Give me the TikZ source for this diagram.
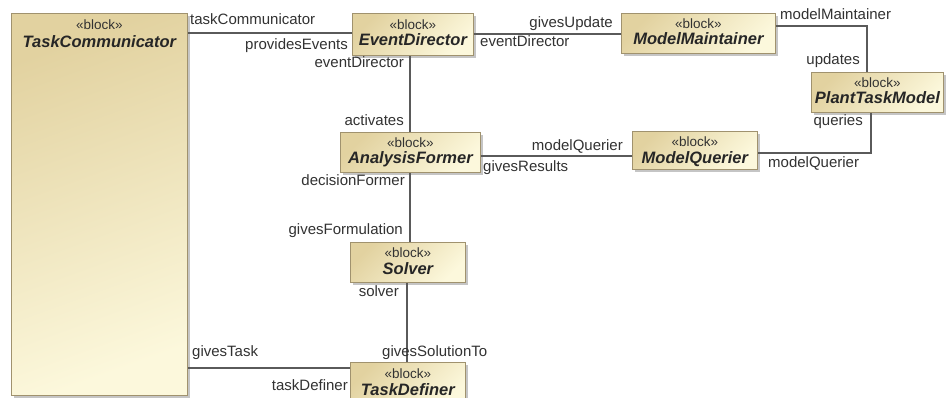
\documentclass[tikz,border=0pt]{standalone}
\usepackage{fontspec}
\setmainfont{Liberation Sans}
\usetikzlibrary{shadows}
\definecolor{blkdark}{RGB}{226,210,160}
\definecolor{blklight}{RGB}{252,248,220}
\definecolor{blkedge}{RGB}{160,146,110}
\definecolor{wire}{RGB}{90,90,90}
\definecolor{lbltext}{RGB}{50,50,50}
\tikzset{
  blk/.style={rectangle, draw=blkedge, line width=0.8pt, inner sep=0pt,
    top color=blkdark, bottom color=blklight, shading angle=45,
    drop shadow={shadow xshift=2.5pt, shadow yshift=-2.5pt, fill=black!45}},
  stereo/.style={inner sep=0pt, text=lbltext, font=\fontsize{13.5}{15}\selectfont},
  blkname/.style={inner sep=0pt, text=black!85, font=\fontsize{16.5}{18}\selectfont\bfseries\itshape},
  conn/.style={draw=wire, line width=1.2pt},
  lbl/.style={inner sep=0pt, text=lbltext, font=\fontsize{15}{17}\selectfont},
}
% stereotype and name of a block: #1 node, #2 name, #3 stereotype drop, #4 name drop
\newcommand{\blocktext}[4]{%
  \node[stereo] (#1-st) at ([yshift=-#3pt]#1.north) {«block»};
  \node[blkname] (#1-nm) at ([yshift=-#4pt]#1.north) {#2};
}
\begin{document}
\begin{tikzpicture}[x=1pt,y=-1pt]
\useasboundingbox (0,0) rectangle (946,398);
\clip (0,0) rectangle (946,398);
\fill[white] (0,0) rectangle (946,398);

% blocks
\node[blk, shading angle=20, minimum width=176pt, minimum height=382pt, anchor=north west] (tc) at (11,13) {};
\node[blk, minimum width=121pt, minimum height=42pt, anchor=north west] (ed) at (352,13) {};
\node[blk, minimum width=154pt, minimum height=40pt, anchor=north west] (mm) at (621,13) {};
\node[blk, minimum width=132pt, minimum height=40pt, anchor=north west] (ptm) at (811,72) {};
\node[blk, minimum width=125pt, minimum height=38pt, anchor=north west] (mq) at (632,131) {};
\node[blk, minimum width=140pt, minimum height=40pt, anchor=north west] (af) at (340,132) {};
\node[blk, minimum width=115pt, minimum height=40pt, anchor=north west] (sv) at (350,242) {};
\node[blk, minimum width=115pt, minimum height=44pt, anchor=north west] (td) at (350,362) {};

\blocktext{tc}{TaskCommunicator}{12}{29}
\blocktext{ed}{EventDirector}{12}{27}
\blocktext{mm}{ModelMaintainer}{11}{26}
\blocktext{ptm}{PlantTaskModel}{11}{26}
\blocktext{mq}{ModelQuerier}{11}{28}
\blocktext{af}{AnalysisFormer}{11}{27}
\blocktext{sv}{Solver}{11}{27}
\blocktext{td}{TaskDefiner}{12}{28}

% connector end points
\coordinate (tcin) at ([yshift=-20pt]tc.north east);
\coordinate (edup) at ([yshift=-21pt]ed.north east);
\coordinate (mmout) at ([yshift=-13pt]mm.north east);
\coordinate (ptmtop) at ([xshift=56pt]ptm.north west);
\coordinate (ptmbot) at ([xshift=60pt]ptm.south west);
\coordinate (mqin) at ([yshift=-22pt]mq.north east);
\coordinate (afq) at ([yshift=-24pt]af.north east);
\coordinate (edbot) at ([xshift=58pt]ed.south west);
\coordinate (afbot) at ([xshift=70pt]af.south west);
\coordinate (svbot) at ([xshift=57pt]sv.south west);
\coordinate (tdin) at ([yshift=-6pt]td.north west);

% connectors
\draw[conn] (tcin) -- (tcin -| ed.west);
\draw[conn] (edup) -- (edup -| mm.west);
\draw[conn] (edbot) -- (edbot |- af.north);
\draw[conn] (mmout) -- (mmout -| ptmtop) -- (ptmtop);
\draw[conn] (ptmbot) -- (ptmbot |- mqin) -- (mqin);
\draw[conn] (afq) -- (afq -| mq.west);
\draw[conn] (afbot) -- (afbot |- sv.north);
\draw[conn] (svbot) -- (svbot |- td.north);
\draw[conn] (tdin) -- (tdin -| tc.east);

% connector end labels
\node[lbl, anchor=base west] (l1) at (190,25) {taskCommunicator};
\node[lbl, anchor=base east] (l2) at (348,50) {providesEvents};
\node[lbl, anchor=base east] (l3) at (404,68) {eventDirector};
\node[lbl, anchor=base east] (l4) at (404,126) {activates};
\node[lbl, anchor=base east] (l5) at (613,28) {givesUpdate};
\node[lbl, anchor=base west] (l6) at (480,47) {eventDirector};
\node[lbl, anchor=base west] (l7) at (780,20) {modelMaintainer};
\node[lbl, anchor=base east] (l8) at (860,65) {updates};
\node[lbl, anchor=base east] (l9) at (863,126) {queries};
\node[lbl, anchor=base west] (l10) at (768,168) {modelQuerier};
\node[lbl, anchor=base east] (l11) at (623,151) {modelQuerier};
\node[lbl, anchor=base west] (l12) at (483,172) {givesResults};
\node[lbl, anchor=base east] (l13) at (405,186) {decisionFormer};
\node[lbl, anchor=base east] (l14) at (403,235) {givesFormulation};
\node[lbl, anchor=base east] (l15) at (399,297) {solver};
\node[lbl, anchor=base west] (l16) at (382,356) {givesSolutionTo};
\node[lbl, anchor=base west] (l17) at (192,356) {givesTask};
\node[lbl, anchor=base east] (l18) at (348,390) {taskDefiner};
\end{tikzpicture}
\end{document}
